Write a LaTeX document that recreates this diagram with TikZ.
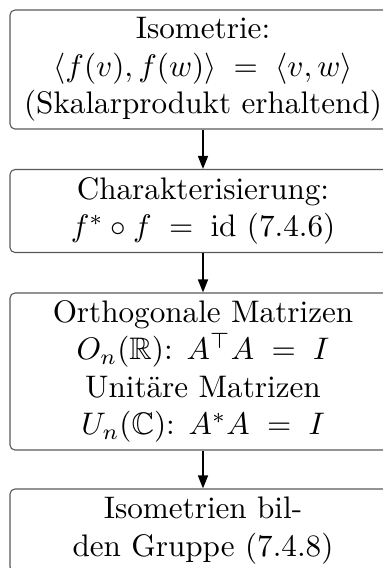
\documentclass[tikz,border=0pt]{standalone}
\usepackage{amsmath,amssymb}
\usetikzlibrary{arrows.meta}
\begin{document}
\begin{tikzpicture}[x=0.321pt,y=-0.321pt,
  box/.style={draw=black!65, line width=0.35pt, rounded corners=1.6pt, minimum width=386*0.321pt, align=center, inner sep=0pt, font=\fontsize{10}{12}\selectfont},
  flow/.style={-{Triangle[length=4.2pt,width=3.2pt]}, line width=0.55pt}]
\useasboundingbox (0,0) rectangle (383,568);
\node[box, minimum height=119*0.321pt] (b1) at (203,69.5) {Isometrie:\\ $\langle f(v),f(w)\rangle\;=\;\langle v,w\rangle$\\ (Skalarprodukt erhaltend)};
\node[box, minimum height=83*0.321pt] (b2) at (203,211) {Charakterisierung:\\ $f^{*}\circ f\;=\;\mathrm{id}$ (7.4.6)};
\node[box, minimum height=157*0.321pt] (b3) at (203,371.5) {Orthogonale Matrizen\\ $O_n(\mathbb{R})$: $A^{\top}A\;=\;I$\\ Unitäre Matrizen\\ $U_n(\mathbb{C})$: $A^{*}A\;=\;I$};
\node[box, minimum height=83*0.321pt] (b4) at (203,530.5) {Isometrien bil-\\ den Gruppe (7.4.8)};
\draw[flow] (b1) -- (b2);
\draw[flow] (b2) -- (b3);
\draw[flow] (b3) -- (b4);
\end{tikzpicture}
\end{document}
